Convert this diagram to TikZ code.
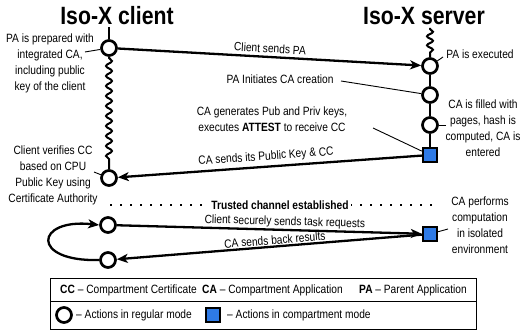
\documentclass[tikz,border=0pt]{standalone}
\usepackage{fontspec}
\setmainfont{Liberation Sans}[FakeStretch=0.85]
\usetikzlibrary{arrows.meta,decorations.pathmorphing}
\definecolor{cablue}{RGB}{46,122,230}
\tikzset{
  regular/.style={circle,draw=black,fill=white,line width=2.7pt,minimum size=15pt,inner sep=0pt},
  compart/.style={rectangle,draw=black,fill=cablue,line width=2.4pt,minimum size=14pt,inner sep=0pt},
  flow/.style={line width=2.3pt,-{Stealth[length=11pt,width=9pt,inset=3pt]}},
  plain/.style={line width=2.3pt},
  pointer/.style={line width=0.9pt},
  wavy/.style={line width=2pt,decorate,decoration={snake,amplitude=3pt,segment length=10pt}},
  lbl/.style={font=\fontsize{12}{16}\selectfont,align=center,inner sep=1pt},
  ttl/.style={font=\fontsize{25}{28}\selectfont\bfseries,inner sep=0pt},
  legtext/.style={font=\fontsize{12}{16}\selectfont,anchor=west,inner sep=0pt},
}
\begin{document}
\begin{tikzpicture}[x=1pt,y=-1pt]
\useasboundingbox (0,0) rectangle (520,331);
% titles
\node[ttl] (tc) at (117,16) {Iso-X client};
\node[ttl] (ts) at (424,16) {Iso-X server};
\coordinate (tcb) at (109,27);
\coordinate (tsb) at (430,28);
% action nodes
\node[regular] (c1) at (109,48) {};
\node[regular] (s1) at (430,66) {};
\node[regular] (s2) at (430,95) {};
\node[regular] (s3) at (430,125) {};
\node[compart] (q1) at (430,155) {};
\node[regular] (c2) at (109,178) {};
\node[regular] (c3) at (108,225) {};
\node[regular] (c4) at (108,260) {};
\node[compart] (q2) at (430,234) {};
% timelines
\draw[plain] (tcb) -- (c1);
\draw[wavy,decoration={snake,amplitude=3pt,segment length=10pt,pre length=1pt,post length=8pt}] (c1.south) -- (c2.north);
\draw[wavy,decoration={snake,amplitude=3pt,segment length=9pt,pre length=1pt,post length=3pt}] (tsb) -- (s1.north);
\draw[plain] (s1) -- (s2);
\draw[plain] (s2) -- (s3);
\draw[plain] (s3) -- (q1);
% messages
\draw[flow] (c1) -- node[lbl,pos=0.5,sloped,above=2pt] {Client sends PA} (s1);
\draw[flow] (q1) -- node[lbl,pos=0.51,sloped,above=2pt] {CA sends its Public Key \& CC} (c2);
\draw[flow] (c3) -- node[lbl,pos=0.55,sloped,above=0pt] {Client securely sends task requests} (q2);
\draw[flow] (q2) -- node[lbl,pos=0.48,sloped,above=0pt] {CA sends back results} (c4);
\draw[flow] (c4.west) .. controls (30,262) and (35,218) .. (c3.west);
% trusted channel
\coordinate (dl) at (110,205);
\coordinate (dr) at (432,205);
\draw[line width=1.8pt,dash pattern=on 1.8pt off 8.2pt] (dl) -- (dr);
\node[lbl,fill=white,inner sep=2pt,font=\fontsize{12}{16}\selectfont\bfseries] (tch) at (280,205) {Trusted channel established};
% labels
\node[lbl] (l1) at (50,63) {PA is prepared with\\integrated CA,\\including public\\key of the client};
\coordinate (k1) at (85,52);
\draw[pointer] (k1) -- (c1);
\node[lbl] (l2) at (480,54) {PA is executed};
\coordinate (k2) at (443,57);
\draw[pointer] (k2) -- (s1);
\node[lbl] (l3) at (280,79) {PA Initiates CA creation};
\coordinate (k3) at (341,81);
\draw[pointer] (k3) -- (s2);
\node[lbl] (l4) at (272,119) {CA generates Pub and Priv keys,\\executes \textbf{ATTEST} to receive CC};
\coordinate (k4) at (373,128);
\draw[pointer] (k4) -- (q1);
\node[lbl] (l5) at (483,128) {CA is filled with\\pages, hash is\\computed, CA is\\entered};
\coordinate (k5) at (446,125);
\draw[pointer] (k5) -- (s3);
\node[lbl] (l6) at (53,175) {Client verifies CC\\based on CPU\\Public Key using\\Certificate Authority};
\coordinate (k6) at (94,172);
\draw[pointer] (k6) -- (c2);
\node[lbl] (l7) at (480,225) {CA performs\\computation\\in isolated\\environment};
\coordinate (k7) at (448,229);
\draw[pointer] (k7) -- (q2);
% legend
\node[draw,line width=0.9pt,minimum width=426pt,minimum height=51pt,inner sep=0pt] (leg) at (263,303.5) {};
\coordinate (lgl) at (50,301);
\coordinate (lgr) at (476,301);
\draw[line width=0.9pt] (lgl) -- (lgr);
\node[legtext] (e1) at (60,290) {\textbf{CC} -- Compartment Certificate};
\node[legtext] (e2) at (202,290) {\textbf{CA} -- Compartment Application};
\node[legtext] (e3) at (359,290) {\textbf{PA} -- Parent Application};
\node[regular] (i1) at (64,315) {};
\node[legtext] (e4) at (76,315) {-- Actions in regular mode};
\node[compart] (i2) at (213,315) {};
\node[legtext] (e5) at (227,315) {-- Actions in compartment mode};
\end{tikzpicture}
\end{document}
